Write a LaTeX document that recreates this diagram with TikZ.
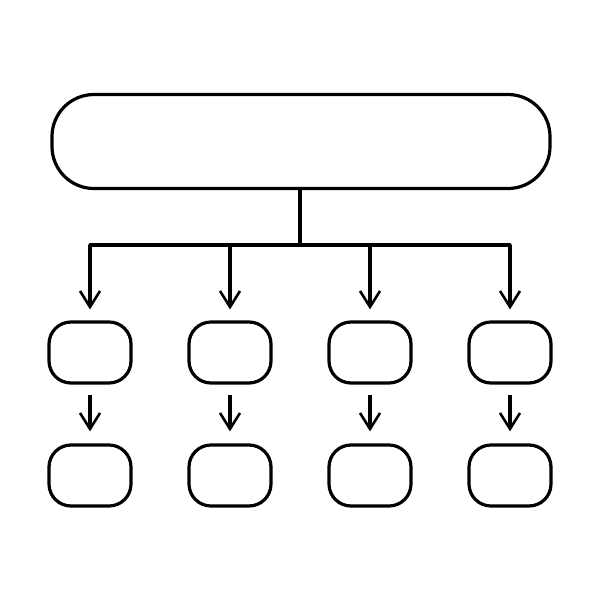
\documentclass[tikz,border=0pt]{standalone}
\usetikzlibrary{arrows.meta}
\begin{document}
\begin{tikzpicture}[x=0.5pt,y=-0.5pt,
  line width=1.6pt,
  bigbox/.style={draw,rounded corners=21pt,minimum width=249pt,minimum height=47pt,inner sep=0pt},
  smallbox/.style={draw,rounded corners=11pt,minimum width=41pt,minimum height=30.5pt,inner sep=0pt},
  conn/.style={-{Straight Barb[length=8pt,width=10pt,line width=1.3pt]}}]
\useasboundingbox[fill=white] (0,0) rectangle (600,600);
\node[bigbox] (top) at (301,141.5) {};
\coordinate (hub) at (300,245);
\coordinate (l) at (90,245);
\coordinate (r) at (510,245);
\draw (top.south -| hub) -- (hub);
\draw[line cap=round] (l) -- (r);
\foreach \i/\x in {1/90,2/230,3/370,4/510}{
  \node[smallbox] (a\i) at (\x,352.5) {};
  \node[smallbox] (b\i) at (\x,475.5) {};
  \coordinate (c\i) at (\x,245);
  \draw[conn] (c\i) -- ([yshift=5.5pt]a\i.north);
  \draw[conn] ([yshift=-5pt]a\i.south) -- ([yshift=6pt]b\i.north);
}
\end{tikzpicture}
\end{document}
